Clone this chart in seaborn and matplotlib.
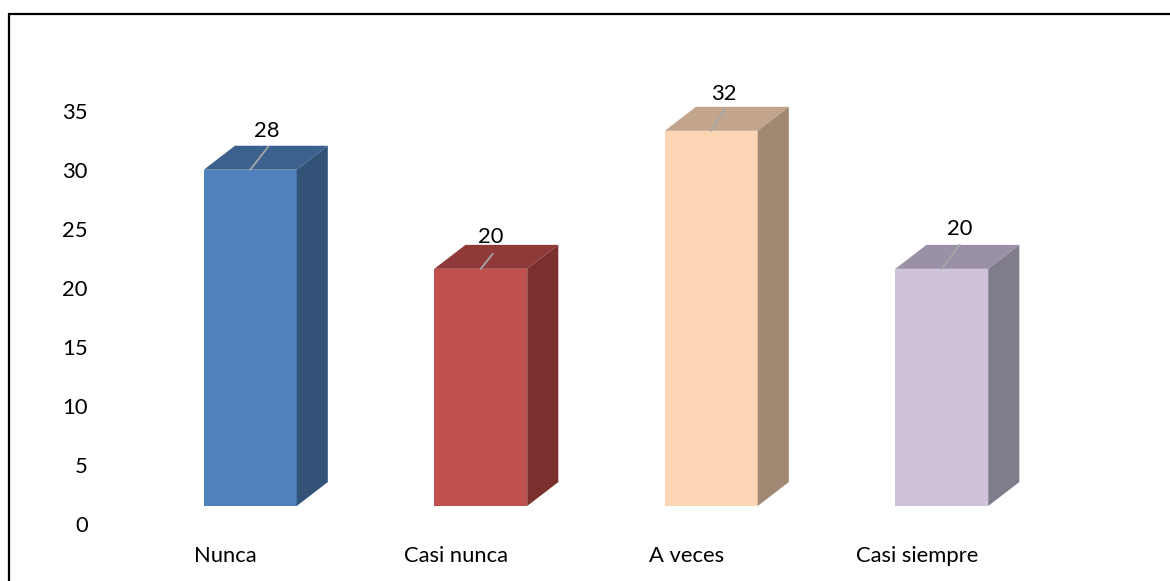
"""Barras con efecto 3D: frecuencia de respuestas por categoría."""

import matplotlib

matplotlib.use("Agg")

import matplotlib.pyplot as plt
import matplotlib.transforms as mtrans
import pandas as pd
import seaborn as sns
from matplotlib.lines import Line2D
from matplotlib.patches import Polygon

categorias = ["Nunca", "Casi nunca", "A veces", "Casi siempre"]
alturas = [28.5, 20.1, 31.8, 20.1]
etiquetas = ["28", "20", "32", "20"]
y_ticks = [0, 5, 10, 15, 20, 25, 30, 35]

color_frente = ["#4F81BD", "#C0504D", "#FCD5B5", "#CFC3DC"]
color_techo = ["#3C618F", "#8F3A38", "#C2A58C", "#9B91A6"]
color_lado = ["#325278", "#7B302E", "#A18873", "#817C8B"]

# desplazamientos en píxeles: texto de la etiqueta y extremo de la línea guía
offset_texto = [(17, 39), (10, 32), (13, 37), (18, 40)]
offset_guia = [(18, 23), (12, 15), (13, 21), (18, 24)]

BASE = 1.525
PROF_X = 0.135
PROF_Y = 2.03
TAM_TEXTO = 15.8

sns.set_theme(style="white")
plt.rcParams["font.family"] = ["Lato", "DejaVu Sans"]

df = pd.DataFrame({"categoria": categorias, "altura": alturas})

fig = plt.figure(figsize=(11.7, 5.81), dpi=100)
ax = fig.add_axes([135 / 1170, (581 - 524) / 581, 922 / 1170, 472 / 581])

sns.barplot(
    data=df,
    x="categoria",
    y="altura",
    hue="categoria",
    palette=color_frente,
    saturation=1,
    width=0.403,
    bottom=BASE,
    legend=False,
    linewidth=0,
    ax=ax,
)

for i, barra in enumerate(ax.patches):
    x0 = barra.get_x()
    x1 = x0 + barra.get_width()
    y0 = barra.get_y()
    y1 = y0 + barra.get_height()
    techo = [(x0, y1), (x1, y1), (x1 + PROF_X, y1 + PROF_Y), (x0 + PROF_X, y1 + PROF_Y)]
    lado = [(x1, y0), (x1 + PROF_X, y0 + PROF_Y), (x1 + PROF_X, y1 + PROF_Y), (x1, y1)]
    ax.add_patch(Polygon(techo, closed=True, facecolor=color_techo[i], edgecolor="none"))
    ax.add_patch(Polygon(lado, closed=True, facecolor=color_lado[i], edgecolor="none"))

    centro = (x0 + x1) / 2
    ax.annotate(
        "",
        xy=(centro, y1),
        xytext=offset_guia[i],
        textcoords="offset pixels",
        arrowprops=dict(arrowstyle="-", color="#A6A6A6", lw=1.3, shrinkA=0, shrinkB=0),
        zorder=5,
    )
    ax.annotate(
        etiquetas[i],
        xy=(centro, y1),
        xytext=offset_texto[i],
        textcoords="offset pixels",
        ha="center",
        va="center",
        fontsize=TAM_TEXTO,
        color="black",
        zorder=6,
    )

ax.set_xlim(-0.5, 3.5)
ax.set_ylim(0, 40)
ax.set_yticks(y_ticks)
ax.set_xlabel("")
ax.set_ylabel("")
ax.tick_params(axis="y", length=0, pad=34, labelsize=TAM_TEXTO, labelcolor="black")
ax.tick_params(axis="x", length=0, pad=16, labelsize=TAM_TEXTO, labelcolor="black")
sns.despine(ax=ax, left=True, bottom=True)

# las categorías van un poco a la izquierda de cada barra
corrimiento = mtrans.ScaledTranslation(-25 / 100, 0, fig.dpi_scale_trans)
for etiqueta in ax.get_xticklabels():
    etiqueta.set_transform(etiqueta.get_transform() + corrimiento)

# marco exterior: solo se ven el borde izquierdo y el superior
fig.add_artist(Line2D([9 / 1170, 9 / 1170], [0, 1 - 14 / 581], color="black", lw=1.6))
fig.add_artist(Line2D([9 / 1170, 1], [1 - 14 / 581, 1 - 14 / 581], color="black", lw=1.6))

fig.savefig("out.png", dpi=100)
plt.close(fig)
